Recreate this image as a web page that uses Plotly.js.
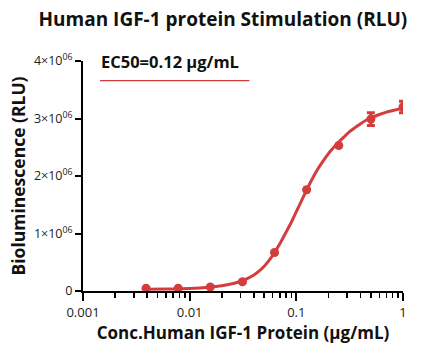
<!DOCTYPE html>
<html><head><meta charset="utf-8">
<script src="https://cdn.plot.ly/plotly-3.0.1.min.js"></script>
<style>html,body{margin:0;padding:0;background:#fff}#c{width:423px;height:352px}</style>
</head><body><div id="c"></div>
<script>
const conc = [0.0039, 0.0078, 0.0156, 0.03125, 0.0625, 0.125, 0.25, 0.5, 1];
const rlu = [0.05e6, 0.05e6, 0.07e6, 0.16e6, 0.67e6, 1.76e6, 2.53e6, 2.99e6, 3.20e6];
const rluErr = [0, 0, 0, 0, 0, 0, 0, 0.11e6, 0.10e6];
const fitX = [0.0039, 0.006, 0.01, 0.015, 0.02, 0.025, 0.03, 0.035, 0.04, 0.045, 0.05, 0.056, 0.0625, 0.07, 0.08, 0.09, 0.1, 0.11, 0.125, 0.14, 0.16, 0.18, 0.2, 0.225, 0.25, 0.28, 0.32, 0.36, 0.4, 0.45, 0.5, 0.6, 0.7, 0.85, 1];
const fitY = [0.03e6, 0.035e6, 0.045e6, 0.065e6, 0.09e6, 0.125e6, 0.17e6, 0.22e6, 0.28e6, 0.35e6, 0.43e6, 0.54e6, 0.67e6, 0.82e6, 1.02e6, 1.2e6, 1.38e6, 1.54e6, 1.76e6, 1.94e6, 2.13e6, 2.27e6, 2.39e6, 2.5e6, 2.59e6, 2.68e6, 2.78e6, 2.85e6, 2.91e6, 2.97e6, 3.01e6, 3.07e6, 3.11e6, 3.15e6, 3.18e6];
const yTickVals = [0, 1e6, 2e6, 3e6, 4e6];
const yTickText = ['0', '1×10<sup>06</sup>', '2×10<sup>06</sup>', '3×10<sup>06</sup>', '4×10<sup>06</sup>'];
const xTickVals = [0.001, 0.01, 0.1, 1];
const xTickText = ['0.001', '0.01', '0.1', '1'];
const xMinorVals = [0.002,0.003,0.004,0.005,0.006,0.007,0.008,0.009,0.02,0.03,0.04,0.05,0.06,0.07,0.08,0.09,0.2,0.3,0.4,0.5,0.6,0.7,0.8,0.9];
const red = '#d43d3d';
const font = 'Open Sans, Noto Sans, sans-serif';

Plotly.newPlot('c', [
  {x: fitX, y: fitY, mode: 'lines', line: {color: red, width: 3, shape: 'spline', smoothing: 0.8}, hoverinfo: 'skip'},
  {x: conc, y: rlu, mode: 'markers', marker: {color: red, size: 9},
   error_y: {type: 'data', array: rluErr, color: red, thickness: 3, width: 4}}
], {
  width: 423, height: 352,
  margin: {l: 83, r: 20, t: 61, b: 61},
  showlegend: false,
  paper_bgcolor: '#fff', plot_bgcolor: '#fff',
  font: {family: font, color: '#111'},
  title: {text: '<b>Human IGF-1 protein Stimulation (RLU)</b>', x: 0.527, xanchor: 'center', y: 0.965, font: {size: 19, color: '#111'}},
  xaxis: {type: 'log', range: [-3, 0], tickmode: 'array', tickvals: xTickVals, ticktext: xTickText,
    showline: true, linecolor: '#000', linewidth: 2, ticks: 'outside', ticklen: 8, tickwidth: 2, tickcolor: '#000',
    gridcolor: 'rgba(0,0,0,0)', zeroline: false, tickfont: {size: 13, color: '#222'},
    minor: {tickmode: 'array', tickvals: xMinorVals, ticks: 'outside', ticklen: 5, tickwidth: 1.5, tickcolor: '#000', gridcolor: 'rgba(0,0,0,0)'},
    title: {text: '<b>Conc.Human IGF-1 Protein (μg/mL)</b>', font: {size: 17, color: '#111'}, standoff: 8}},
  yaxis: {range: [0, 4e6], tickvals: yTickVals, ticktext: yTickText,
    showline: true, linecolor: '#000', linewidth: 2, ticks: 'outside', ticklen: 6, tickwidth: 2, tickcolor: '#000',
    showgrid: false, zeroline: false, tickfont: {size: 12.5, color: '#222'},
    title: {text: '<b>Bioluminescence (RLU)</b>', font: {size: 17.5, color: '#111'}, standoff: 4}},
  annotations: [{text: '<b>EC50=0.12 μg/mL</b>', xref: 'paper', yref: 'paper', x: 0.05, y: 1.0, xanchor: 'left', yanchor: 'middle', showarrow: false, font: {size: 16.5, color: '#111'}}],
  shapes: [{type: 'line', xref: 'paper', yref: 'paper', x0: 0.053, x1: 0.52, y0: 0.915, y1: 0.915, line: {color: red, width: 1.2}}]
}, {displayModeBar: false, staticPlot: true});
</script></body></html>
